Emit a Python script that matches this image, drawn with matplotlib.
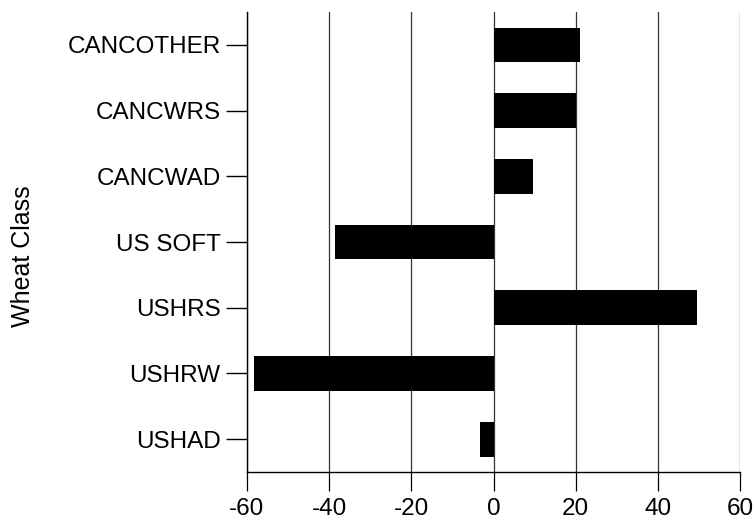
import matplotlib
matplotlib.use("Agg")
import matplotlib.pyplot as plt

categories = ["USHAD", "USHRW", "USHRS", "US SOFT", "CANCWAD", "CANCWRS", "CANCOTHER"]
values = [-3.4, -58.4, 49.6, -38.7, 9.7, 20.0, 21.0]
xticks = [-60, -40, -20, 0, 20, 40, 60]

plt.rcParams['font.family'] = ['Liberation Sans', 'DejaVu Sans']

fig = plt.figure(figsize=(7.53, 5.25), dpi=100)
ax = fig.add_axes([0.328, 0.101, 0.655, 0.876])

ax.barh(range(len(categories)), values, height=0.53, color="black", zorder=3)

ax.set_xlim(-60, 60)
ax.set_ylim(-0.5, len(categories) - 0.5)
ax.set_xticks(xticks)
ax.set_xticklabels([str(t) for t in xticks])
ax.set_yticks(range(len(categories)))
ax.set_yticklabels(categories)

ax.grid(axis='x', color='#333333', linewidth=0.9, zorder=0)
ax.grid(axis='y', visible=False)

for s in ['top', 'right']:
    ax.spines[s].set_visible(False)
ax.spines['left'].set_linewidth(1.0)
ax.spines['bottom'].set_linewidth(1.0)

ax.tick_params(axis='x', direction='out', length=14, width=0.9, pad=5, labelsize=17.5)
ax.tick_params(axis='y', direction='out', length=15, width=1.0, pad=4, labelsize=17.5)

ax.set_ylabel("Wheat Class", fontsize=18)
ax.yaxis.set_label_coords(-0.43, 0.47)

fig.savefig("out.png", dpi=100)
